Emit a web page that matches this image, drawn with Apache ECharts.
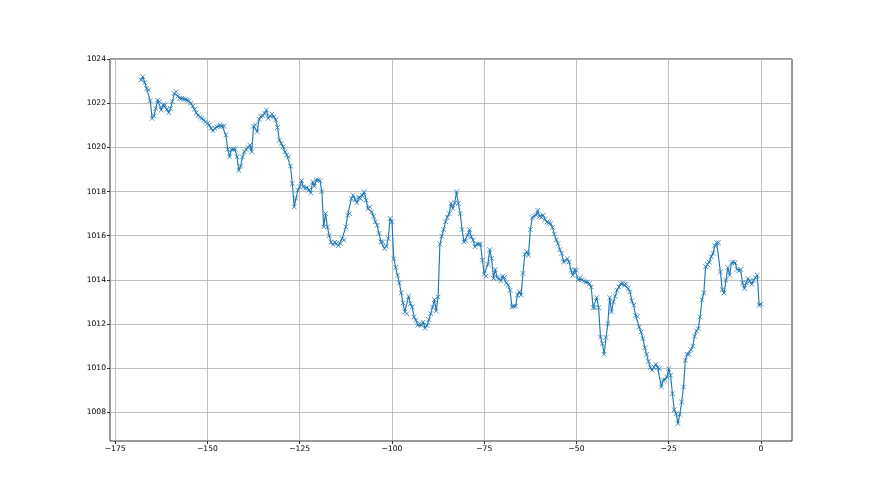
<!DOCTYPE html>
<html>
<head>
<meta charset="utf-8">
<script src="https://cdn.jsdelivr.net/npm/echarts@6/dist/echarts.min.js"></script>
<style>
html,body{margin:0;padding:0;background:#fff;}
#chart{width:880px;height:495px;}
</style>
</head>
<body>
<div id="chart"></div>
<script>
// Time axis: hours relative to now, one reading every half hour
const startHour = -168;
const stepHours = 0.5;
// Pressure readings (hPa)
const pressure = [
1023.05,1023.2,1022.93,1022.67,1022.6,1022.11,1021.31,1021.42,1021.76,1022.14,
1022.07,1021.69,1021.92,1021.92,1021.72,1021.57,1021.76,1022.07,1022.44,1022.52,
1022.32,1022.22,1022.22,1022.19,1022.17,1022.14,1022.11,1021.99,1021.87,1021.72,
1021.57,1021.45,1021.36,1021.31,1021.24,1021.16,1021.08,1021.01,1020.86,1020.75,
1020.86,1020.93,1020.96,1021.01,1020.96,1020.96,1020.56,1019.91,1019.57,1019.91,
1019.91,1019.91,1019.57,1018.95,1019.15,1019.57,1019.8,1019.9,1020.0,1020.1,
1019.8,1020.96,1021.01,1020.71,1021.27,1021.39,1021.42,1021.54,1021.69,1021.31,
1021.42,1021.51,1021.39,1021.24,1020.9,1020.33,1020.18,1020.03,1019.8,1019.65,
1019.57,1019.15,1018.37,1017.31,1017.69,1018.06,1018.21,1018.49,1018.21,1018.14,
1018.18,1018.06,1017.94,1018.44,1018.24,1018.52,1018.52,1018.49,1018.0,1016.4,
1017.0,1016.4,1016.0,1015.7,1015.6,1015.7,1015.65,1015.55,1015.64,1015.87,
1015.8,1016.4,1016.93,1017.0,1017.68,1017.83,1017.64,1017.49,1017.73,1017.68,
1017.83,1017.98,1017.61,1017.23,1017.3,1017.08,1016.88,1016.63,1016.47,1016.1,
1015.72,1015.72,1015.42,1015.52,1015.87,1016.78,1016.63,1014.96,1014.56,1014.21,
1013.86,1013.41,1012.95,1012.55,1012.47,1013.26,1012.92,1012.77,1012.32,1012.17,
1011.94,1012.02,1011.94,1012.09,1011.82,1011.94,1012.2,1012.47,1012.77,1013.11,
1012.59,1013.23,1015.62,1015.98,1016.28,1016.63,1016.83,1017.0,1017.46,1017.23,
1017.49,1017.99,1017.46,1017.0,1016.28,1015.72,1015.77,1016.02,1016.28,1015.95,
1015.8,1015.5,1015.62,1015.62,1015.62,1014.89,1014.26,1014.17,1014.71,1015.37,
1014.97,1014.06,1014.47,1014.11,1014.06,1013.96,1014.17,1014.11,1013.86,1013.76,
1013.53,1012.78,1012.81,1012.81,1013.31,1013.46,1013.31,1014.29,1015.16,1015.27,
1015.12,1016.28,1016.82,1016.88,1016.93,1017.15,1016.88,1016.82,1016.93,1016.73,
1016.62,1016.58,1016.55,1016.37,1016.07,1015.82,1015.64,1015.37,1015.19,1014.81,
1014.86,1014.96,1014.81,1014.43,1014.21,1014.46,1014.43,1014.01,1014.1,1014.01,
1013.95,1013.9,1013.9,1013.83,1013.68,1012.74,1012.74,1013.2,1012.74,1011.41,
1011.11,1010.63,1011.39,1012.02,1013.2,1012.55,1013.0,1013.26,1013.53,1013.68,
1013.83,1013.86,1013.76,1013.8,1013.61,1013.46,1013.05,1012.85,1012.4,1012.35,
1011.87,1011.64,1011.34,1010.93,1010.63,1010.31,1010.03,1009.91,1010.06,1010.18,
1010.03,1009.98,1009.15,1009.45,1009.48,1009.6,1009.98,1009.68,1008.85,1008.12,
1007.94,1007.49,1007.91,1008.47,1009.15,1010.36,1010.63,1010.63,1010.84,1011.0,
1011.45,1011.69,1011.79,1012.32,1013.1,1013.4,1014.6,1014.7,1014.8,1015.05,
1015.2,1015.55,1015.68,1015.68,1014.36,1013.56,1013.41,1013.98,1014.56,1014.21,
1014.77,1014.81,1014.77,1014.47,1014.41,1014.47,1013.86,1013.61,1013.86,1014.06,
1013.95,1013.8,1013.98,1014.1,1014.21,1012.85,1012.9
];
const xTicks = [-175, -150, -125, -100, -75, -50, -25, 0];
const yTicks = [1008, 1010, 1012, 1014, 1016, 1018, 1020, 1022, 1024];

const points = pressure.map((v, i) => [startHour + i * stepHours, v]);

// matplotlib-style 5% margins
const xs = points.map(p => p[0]);
const xMinD = Math.min(...xs), xMaxD = Math.max(...xs);
const yMinD = Math.min(...pressure), yMaxD = Math.max(...pressure);
const xPad = (xMaxD - xMinD) * 0.05, yPad = (yMaxD - yMinD) * 0.05;
const yMaxAxis = Math.max(yMaxD + yPad, 1024);

const fmt = v => String(v).replace('-', '\u2212');
const font = {fontFamily: 'DejaVu Sans', fontSize: 7.6, color: '#000'};

const chart = echarts.init(document.getElementById('chart'), null, {renderer: 'canvas'});
chart.setOption({
  animation: false,
  backgroundColor: '#fff',
  grid: {left: 110, top: 59, width: 682, height: 382, show: true, borderColor: '#000', borderWidth: 0.8, backgroundColor: 'transparent'},
  xAxis: {
    type: 'value', min: xMinD - xPad, max: xMaxD + xPad,
    axisLine: {show: false, onZero: false},
    axisTick: {show: true, inside: false, length: 3, lineStyle: {color: '#000', width: 0.8}, customValues: xTicks},
    axisLabel: Object.assign({customValues: xTicks, margin: 4, formatter: fmt}, font),
    splitLine: {show: true, lineStyle: {color: '#b0b0b0', width: 0.8}}
  },
  yAxis: {
    type: 'value', min: yMinD - yPad, max: yMaxAxis,
    axisLine: {show: false, onZero: false},
    axisTick: {show: true, inside: false, length: 3, lineStyle: {color: '#000', width: 0.8}, customValues: yTicks},
    axisLabel: Object.assign({customValues: yTicks, margin: 4, formatter: fmt}, font),
    splitLine: {show: true, lineStyle: {color: '#b0b0b0', width: 0.8}}
  },
  series: [{
    type: 'line',
    data: points,
    showSymbol: true,
    showAllSymbol: true,
    symbol: 'path://M0,0L10,10M10,0L0,10',
    symbolSize: 4.6,
    lineStyle: {color: '#1f77b4', width: 1.15},
    itemStyle: {color: '#1f77b4', borderColor: '#1f77b4', borderWidth: 0.8},
    silent: true
  }]
});
</script>
</body>
</html>
